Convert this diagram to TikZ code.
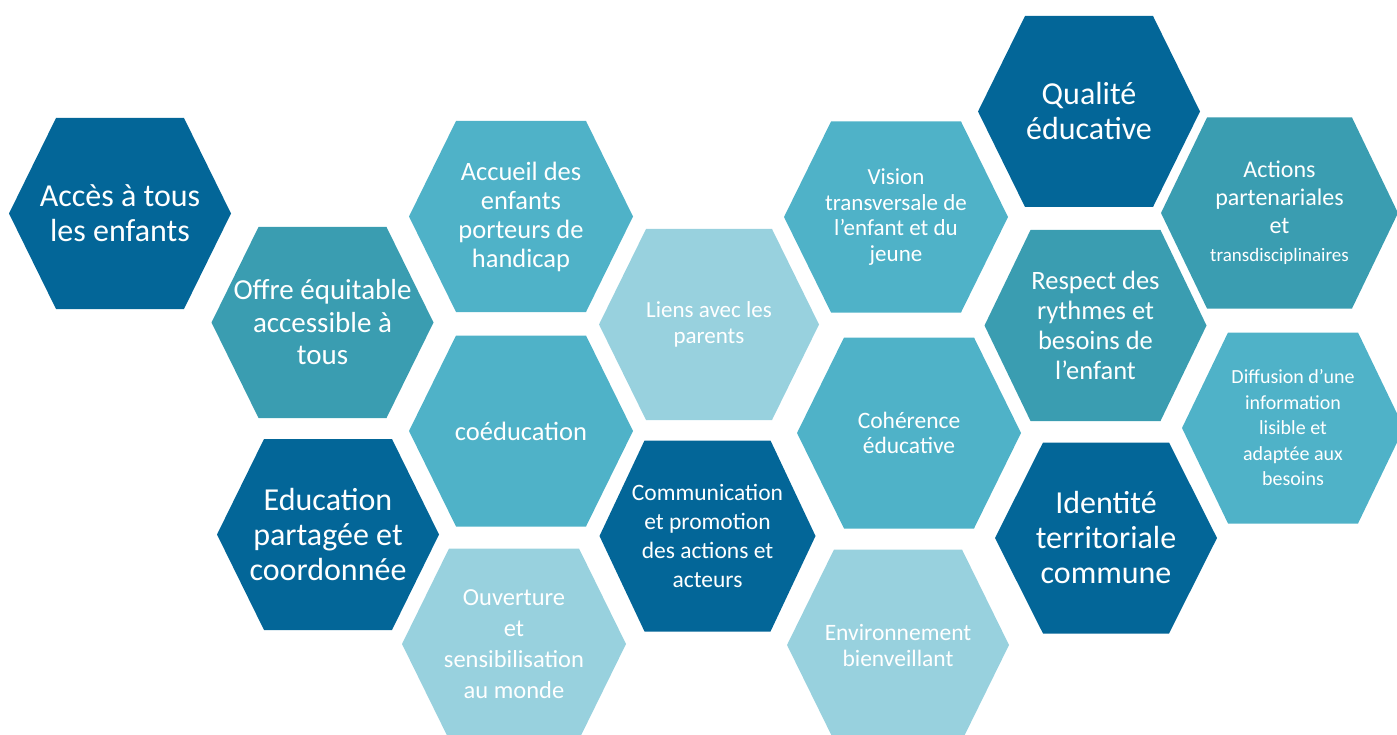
\documentclass[tikz,border=0pt]{standalone}
\usepackage{fontspec}
\setmainfont{Carlito}
\definecolor{hdark}{HTML}{036698}
\definecolor{hmed}{HTML}{3A9DB1}
\definecolor{hlm}{HTML}{4FB2C8}
\definecolor{hlight}{HTML}{98D1DE}
\newcommand{\fs}[2]{\fontsize{#1}{#2}\selectfont}
% #1 half-width/half-top, #2 name, #3 centre, #4 colour, #5 font, #6 text
\newcommand{\hexa}[6][111/64]{%
  \foreach \hw/\ht in {#1}{%
    \fill[#4, shift={(#3)}] (-\hw,0) -- (-\ht,-95.5) -- (\ht,-95.5) -- (\hw,0) -- (\ht,95.5) -- (-\ht,95.5) -- cycle;}
  \node[hextext, font=#5] (#2) at (#3) {#6};}
\begin{document}
\begin{tikzpicture}[x=1pt,y=-1pt,
  hextext/.style={align=center, text=white, inner sep=0pt}]
\useasboundingbox (0,0) rectangle (1397,735);
\clip (0,0) rectangle (1397,735);
\hexa{acces}{120,213.5}{hdark}{\fs{32}{35}}{Accès à tous\\les enfants}
\hexa{offre}{322.5,322.5}{hmed}{\fs{29}{32.5}}{Offre équitable\\accessible à\\tous}
\hexa{educ}{328,534.5}{hdark}{\fs{32}{35}}{Education\\partagée et\\coordonnée}
\hexa[112/65]{accueil}{521,216.5}{hlm}{\fs{26.5}{29}}{Accueil des\\enfants\\porteurs de\\handicap}
\hexa[112/65]{coed}{521,431}{hlm}{\fs{26.5}{29}}{coéducation}
\hexa[112/65]{ouvert}{514,644}{hlight}{\fs{24.5}{31}}{Ouverture\\et\\sensibilisation\\au monde}
\hexa[110/63]{liens}{709,324.5}{hlight}{\fs{23}{25.5}}{Liens avec les\\parents}
\hexa[108/63]{comm}{707.5,536}{hdark}{\fs{23.5}{29}}{Communication\\et promotion\\des actions et\\acteurs}
\hexa[112/65]{vision}{896,217}{hlm}{\fs{23}{25.5}}{Vision\\transversale de\\l’enfant et du\\jeune}
\hexa[112/65]{coher}{909,433}{hlm}{\fs{23.5}{25.5}}{Cohérence\\éducative}
\hexa[111/64]{envir}{898,645}{hlight}{\fs{23.5}{26}}{Environnement\\bienveillant}
\hexa[111/64]{qualite}{1089,111.5}{hdark}{\fs{32}{35}}{Qualité\\éducative}
\hexa[111/65]{respect}{1095.5,325.5}{hmed}{\fs{26.5}{30}}{Respect des\\rythmes et\\besoins de\\l’enfant}
\hexa[111/63]{identite}{1106,538}{hdark}{\fs{32}{35}}{Identité\\territoriale\\commune}
\hexa[118.5/72.5]{actions}{1279.5,213}{hmed}{\fs{24}{28}}{Actions\\partenariales\\et\\{\fs{19}{25}transdisciplinaires}}
\hexa[111/65]{diffusion}{1293,428}{hlm}{\fs{20}{25.5}}{Diffusion d’une\\information\\lisible et\\adaptée aux\\besoins}
\end{tikzpicture}
\end{document}
